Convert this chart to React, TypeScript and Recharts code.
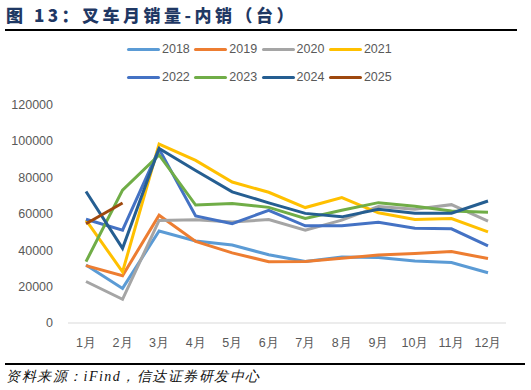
import { LineChart, Line, XAxis, YAxis } from 'recharts';

// 叉车月销量-内销（台），按年份
const months = ['1月', '2月', '3月', '4月', '5月', '6月', '7月', '8月', '9月', '10月', '11月', '12月'];
const yTicks = [0, 20000, 40000, 60000, 80000, 100000, 120000];

const s2018 = [31800, 19000, 50500, 45000, 42800, 37500, 33800, 36300, 36000, 34000, 33200, 27600];
const s2019 = [31500, 26000, 59200, 44800, 38500, 33700, 33800, 35500, 37300, 38200, 39200, 35400];
const s2020 = [22800, 13000, 56300, 56700, 55500, 56800, 51000, 56500, 64000, 62500, 65000, 55900];
const s2021 = [56500, 28100, 98300, 89300, 77400, 71800, 63400, 68900, 60500, 56800, 57400, 50000];
const s2022 = [57000, 51000, 95500, 58800, 54500, 61900, 53400, 53400, 55300, 52000, 51700, 42400];
const s2023 = [33700, 73000, 92300, 64800, 65600, 63500, 57400, 61900, 66100, 64100, 61500, 60800];
const s2024 = [72200, 41000, 95800, 83800, 72000, 66000, 60200, 58300, 62500, 60300, 60300, 67000];
const s2025 = [54500, 65900];

const series = [
  { key: '2018', values: s2018, color: '#5B9BD5' },
  { key: '2019', values: s2019, color: '#ED7D31' },
  { key: '2020', values: s2020, color: '#A5A5A5' },
  { key: '2021', values: s2021, color: '#FFC000' },
  { key: '2022', values: s2022, color: '#4472C4' },
  { key: '2023', values: s2023, color: '#70AD47' },
  { key: '2024', values: s2024, color: '#255E91' },
  { key: '2025', values: s2025, color: '#9E480E' },
];

const data = months.map((m, i) => {
  const row: Record<string, string | number | null> = { month: m };
  series.forEach((s) => {
    row[s.key] = i < s.values.length ? s.values[i] : null;
  });
  return row;
});

const numFont = '"Liberation Sans", Arial, sans-serif';
const tickStyle = { fill: '#595959', fontSize: 12.5, fontFamily: numFont };

function LegendRow({ items, top }: { items: typeof series; top: number }) {
  return (
    <div style={{ position: 'absolute', left: 127, top, display: 'flex', alignItems: 'center', height: 16 }}>
      {items.map((s) => (
        <div key={s.key} style={{ width: 67.3, display: 'flex', alignItems: 'center' }}>
          <span style={{ width: 33, height: 3, background: s.color, borderRadius: 2, display: 'inline-block' }} />
          <span style={{ marginLeft: 2, fontSize: 12.5, color: '#595959', fontFamily: numFont }}>{s.key}</span>
        </div>
      ))}
    </div>
  );
}

export default function App() {
  return (
    <div style={{ position: 'absolute', left: 0, top: 0, width: 531, height: 390, background: '#fff', overflow: 'hidden' }}>
      <div
        style={{
          position: 'absolute', left: 6, top: 3, fontSize: 17, fontWeight: 900, letterSpacing: 3.5,
          color: '#1F3864', fontFamily: '"Noto Sans CJK SC", sans-serif', whiteSpace: 'nowrap', lineHeight: '24px',
        }}
      >
        图 13：叉车月销量-内销（台）
      </div>
      <div style={{ position: 'absolute', left: 5, top: 29, width: 512, height: 2, background: '#000' }} />

      <LegendRow items={series.slice(0, 4)} top={41} />
      <LegendRow items={series.slice(4)} top={69} />

      <div style={{ position: 'absolute', left: 0, top: 0 }}>
        <LineChart width={531} height={390} data={data} margin={{ top: 104.5, right: 25, bottom: 37, left: 8 }}>
          <XAxis
            dataKey="month"
            tick={tickStyle}
            tickLine={false}
            tickSize={0}
            tickMargin={15}
            axisLine={{ stroke: '#D9D9D9' }}
            height={30}
            interval={0}
            padding={{ left: 18, right: 18 }}
          />
          <YAxis
            domain={[0, 120000]}
            ticks={yTicks}
            tick={tickStyle}
            tickLine={false}
            tickSize={0}
            tickMargin={15}
            axisLine={false}
            width={60}
            interval={0}
          />
          {series.map((s) => (
            <Line
              key={s.key}
              dataKey={s.key}
              stroke={s.color}
              strokeWidth={3}
              dot={false}
              isAnimationActive={false}
              connectNulls={false}
            />
          ))}
        </LineChart>
      </div>

      <div style={{ position: 'absolute', left: 5, top: 363, width: 520, height: 2, background: '#000' }} />
      <div
        style={{
          position: 'absolute', left: 6, top: 367, fontSize: 14, fontStyle: 'italic', letterSpacing: 1.5,
          color: '#111', fontFamily: 'serif', whiteSpace: 'nowrap', lineHeight: '20px',
        }}
      >
        资料来源：iFind，信达证券研发中心
      </div>
    </div>
  );
}
